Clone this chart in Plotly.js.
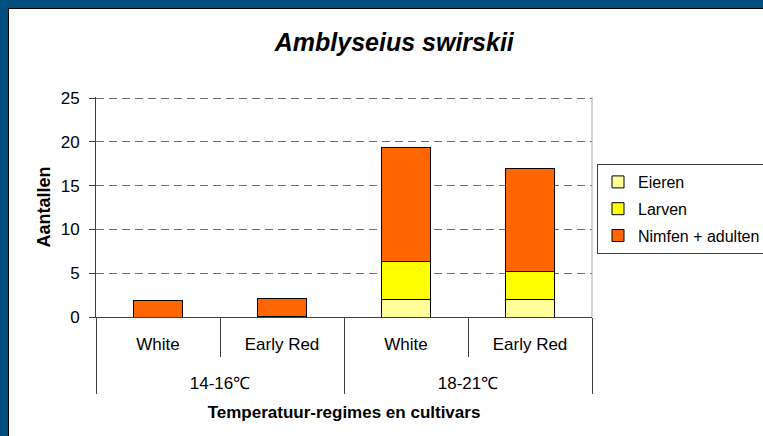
<!DOCTYPE html>
<html><head><meta charset="utf-8">
<script src="https://cdn.plot.ly/plotly-3.0.1.min.js"></script>
<style>
html,body{margin:0;padding:0;background:#004f7f;width:763px;height:436px;overflow:hidden;}
#frame{position:absolute;left:8px;top:8px;width:755px;height:428px;border-left:1px solid #000;border-top:1px solid #000;background:#fff;}
#chart{width:754px;height:427px;}
</style></head><body><div id="frame"><div id="chart"></div></div>
<script>
const groups = ["14-16℃", "14-16℃", "18-21℃", "18-21℃"];
const cultivars = ["White", "Early Red", "White", "Early Red"];
const eieren = [0, 0, 2.0, 2.0];
const larven = [0, 0.1, 4.3, 3.2];
const nimfen = [1.9, 2.0, 13.1, 11.8];
const seriesNames = ["Eieren", "Larven", "Nimfen + adulten"];
const seriesColors = ["#FFFF99", "#FFFF00", "#FF6600"];
const yTicks = [0, 5, 10, 15, 20, 25];

const FONT = "Liberation Sans, Arial, sans-serif";
// an empty (taller) second line under each cultivar label gives the group row its spacing
const cultivarLabels = cultivars.map(c => c + "<br><span style=\"font-size:44px\">\u00a0</span>");
const series = [eieren, larven, nimfen];
const traces = series.map((vals, i) => ({
  type: "bar",
  name: seriesNames[i],
  legendgroup: "g" + i,
  x: [groups, cultivarLabels],
  y: vals,
  width: 0.4,
  marker: {color: seriesColors[i], line: {color: "#000000", width: 1}},
  hoverinfo: "skip"
}));

const layout = {
  width: 754, height: 427,
  margin: {l: 87, r: 171, t: 88, b: 119, autoexpand: false},
  paper_bgcolor: "#ffffff", plot_bgcolor: "#ffffff",
  barmode: "stack",
  font: {family: FONT, color: "#000000", size: 17},
  title: {
    text: "Amblyseius swirskii",
    font: {family: FONT, size: 25, weight: "bold", style: "italic", color: "#000"},
    xref: "container", x: 0.511, xanchor: "center",
    yref: "container", y: 1 - 33 / 427, yanchor: "middle"
  },
  xaxis: {
    type: "multicategory",
    ticks: "outside", tickson: "boundaries", ticklen: 39, tickcolor: "#404040", tickwidth: 1,
    showdividers: true, dividercolor: "#404040", dividerwidth: 1,
    showline: true, linecolor: "#404040", linewidth: 1,
    showgrid: false, zeroline: false,
    tickfont: {family: FONT, size: 17, color: "#000"},
    ticklabelstandoff: 12,
    title: {text: "Temperatuur-regimes en cultivars", font: {family: FONT, size: 17, weight: "bold", color: "#000"}}
  },
  yaxis: {
    range: [0, 25.12], tickvals: yTicks, ticktext: yTicks.map(String),
    ticks: "outside", ticklen: 6, tickcolor: "#404040", tickwidth: 1,
    showline: true, linecolor: "#404040", linewidth: 1,
    showgrid: true, gridcolor: "#707070", gridwidth: 1, griddash: "8px,5px",
    zeroline: false,
    tickfont: {family: FONT, size: 17, color: "#000"},
    ticklabelstandoff: 6,
    title: {text: "Aantallen", font: {family: FONT, size: 18, weight: "bold", color: "#000"}}
  },
  legend: {
    x: (597 - 96) / 496, xanchor: "left", y: (317 - 164) / 220, yanchor: "top",
    bgcolor: "#ffffff", bordercolor: "#404040", borderwidth: 1,
    font: {family: FONT, size: 16, color: "#000"},
    traceorder: "grouped", tracegroupgap: 3
  },
  shapes: [{type: "line", xref: "paper", yref: "paper", x0: 1, x1: 1, y0: 0, y1: 1,
    line: {color: "#a6a6a6", width: 1}}],
  showlegend: true
};

Plotly.newPlot("chart", traces, layout, {displayModeBar: false, staticPlot: true});
</script></body></html>
